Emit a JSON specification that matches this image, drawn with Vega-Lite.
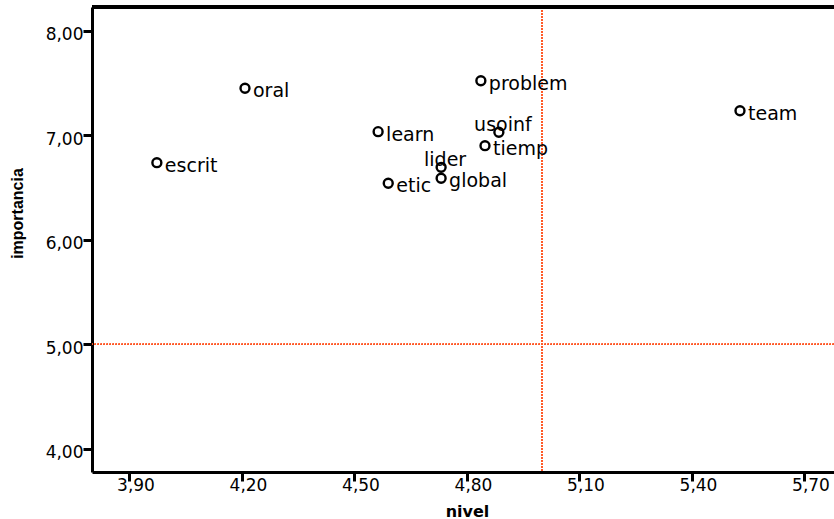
{
  "$schema": "https://vega.github.io/schema/vega-lite/v6.json",
  "autosize": "none",
  "width": 742,
  "height": 465,
  "padding": {"left": 92, "top": 7, "right": 0, "bottom": 47},
  "background": "white",
  "config": {
    "view": {"stroke": null},
    "axis": {
      "grid": false,
      "domainColor": "black",
      "domainWidth": 3,
      "tickColor": "black",
      "tickWidth": 3,
      "tickSize": 9,
      "labelFont": "DejaVu Sans",
      "labelFontSize": 17,
      "labelColor": "black",
      "titleColor": "black"
    }
  },
  "data": {
    "values": [
      {"name": "escrit", "nivel": 3.973, "importancia": 6.738},
      {"name": "oral", "nivel": 4.208, "importancia": 7.450},
      {"name": "learn", "nivel": 4.563, "importancia": 7.035},
      {"name": "etic", "nivel": 4.590, "importancia": 6.541},
      {"name": "lider", "nivel": 4.731, "importancia": 6.694},
      {"name": "global", "nivel": 4.731, "importancia": 6.589},
      {"name": "problem", "nivel": 4.837, "importancia": 7.522},
      {"name": "usoinf", "nivel": 4.885, "importancia": 7.029},
      {"name": "tiemp", "nivel": 4.848, "importancia": 6.901},
      {"name": "team", "nivel": 5.528, "importancia": 7.235}
    ]
  },
  "encoding": {
    "x": {
      "field": "nivel",
      "type": "quantitative",
      "scale": {"domain": [3.8, 5.7787], "nice": false, "zero": false},
      "axis": {
        "values": [3.9, 4.2, 4.5, 4.8, 5.1, 5.4, 5.7],
        "labelExpr": "replace(format(datum.value, '.2f'), '.', ',')",
        "labelOffset": 6,
        "labelPadding": -4,
        "labelFlush": false,
        "title": "nivel",
        "titleFont": "DejaVu Sans",
        "titleFontWeight": "bold",
        "titleFontSize": 16,
        "titleX": 375,
        "titleY": 44,
        "titleAlign": "center",
        "titleBaseline": "alphabetic"
      }
    },
    "y": {
      "field": "importancia",
      "type": "quantitative",
      "scale": {"domain": [3.78, 8.227], "nice": false, "zero": false},
      "axis": {
        "values": [4, 5, 6, 7, 8],
        "labelExpr": "replace(format(datum.value, '.2f'), '.', ',')",
        "labelPadding": 0,
        "labelOffset": 4,
        "labelFlush": false,
        "title": "importancia",
        "titleFont": "Liberation Sans",
        "titleFontWeight": "bold",
        "titleFontSize": 16,
        "titleAngle": -90,
        "titleX": -75,
        "titleY": 206,
        "titleAlign": "center",
        "titleBaseline": "middle"
      }
    }
  },
  "layer": [
    {
      "mark": {"type": "rule", "color": "#ff5a28", "strokeWidth": 1.2, "strokeDash": [1.5, 1.5]},
      "encoding": {"x": {"datum": 5.0}, "y": null}
    },
    {
      "mark": {"type": "rule", "color": "#ff5a28", "strokeWidth": 1.2, "strokeDash": [1.5, 1.5]},
      "encoding": {"y": {"datum": 5.0}, "x": null}
    },
    {
      "mark": {"type": "rule", "color": "black", "strokeWidth": 3},
      "encoding": {"y": {"datum": 8.227}, "x": null}
    },
    {
      "mark": {"type": "point", "shape": "circle", "filled": false, "color": "black", "strokeWidth": 2.4, "size": 80, "opacity": 1}
    },
    {
      "transform": [{"filter": "datum.name !== 'usoinf' && datum.name !== 'lider'"}],
      "mark": {"type": "text", "align": "left", "baseline": "alphabetic", "dx": 8, "dy": 9, "font": "DejaVu Sans", "fontSize": 19, "color": "black"},
      "encoding": {"text": {"field": "name"}}
    },
    {
      "transform": [{"filter": "datum.name === 'usoinf' || datum.name === 'lider'"}],
      "mark": {"type": "text", "align": "center", "baseline": "alphabetic", "dx": 4, "dy": -1, "font": "DejaVu Sans", "fontSize": 19, "color": "black"},
      "encoding": {"text": {"field": "name"}}
    }
  ]
}
